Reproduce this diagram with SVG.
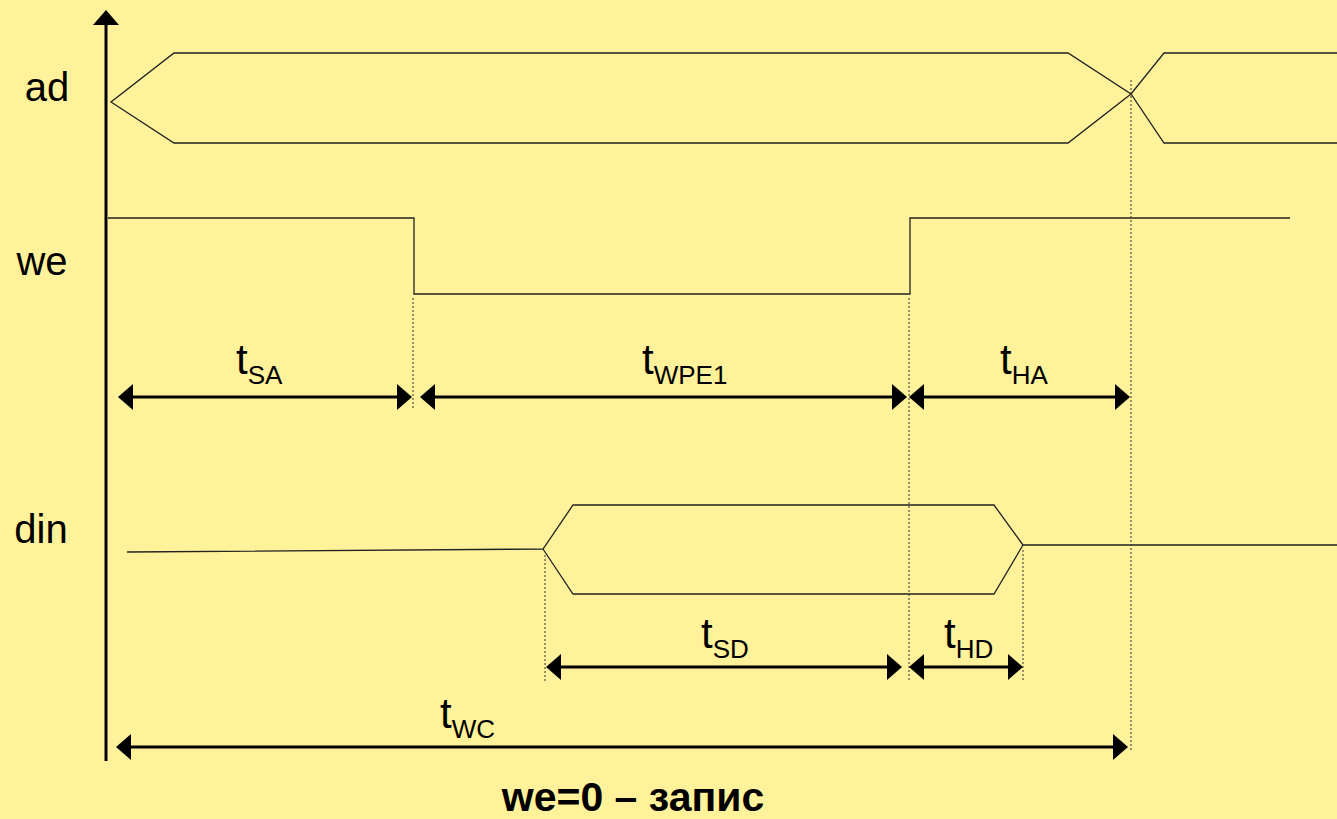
<svg xmlns="http://www.w3.org/2000/svg" width="1337" height="819" viewBox="0 0 1337 819">
  <style>
    .sig { fill: none; stroke: #222; stroke-width: 1.3; }
    .guide { fill: none; stroke: #333; stroke-width: 1; stroke-dasharray: 2 2; }
    .dim { fill: none; stroke: #000; stroke-width: 3; }
    .name { font-family: "Liberation Sans", Arial, sans-serif; font-size: 40px; fill: #000; }
    .t { font-family: "Liberation Sans", Arial, sans-serif; font-size: 42px; fill: #000; }
    .sub { font-size: 26px; }
    .caption { font-family: "Liberation Sans", Arial, sans-serif; font-size: 41px; font-weight: bold; fill: #000; }
  </style>
  <defs>
    <marker id="ah" viewBox="0 0 15 26" refX="7" refY="13" markerWidth="15" markerHeight="26" orient="auto-start-reverse" markerUnits="userSpaceOnUse">
      <path d="M0,0 L15,13 L0,26 Z" fill="#000"/>
    </marker>
  </defs>

  <rect width="1337" height="819" fill="#FFF29A"/>

  <!-- time axis -->
  <g id="axis">
    <line x1="106" y1="761" x2="106" y2="22" stroke="#000" stroke-width="3"/>
    <polygon points="106,10 93,25 119,25" fill="#000"/>
  </g>

  <!-- signal names -->
  <g id="labels">
    <text class="name" x="47" y="101" text-anchor="middle">ad</text>
    <text class="name" x="42" y="275" text-anchor="middle">we</text>
    <text class="name" x="41" y="543" text-anchor="middle">din</text>
  </g>

  <!-- address bus -->
  <g id="ad">
    <polyline class="sig" points="1337,53 1164,53 1131,94 1068,143 174,143 111,102 174,53 1068,53 1131,94 1164,143 1337,143"/>
  </g>

  <!-- write enable -->
  <g id="we">
    <polyline class="sig" points="108,218 414,218 414,294 910,294 910,218 1290,218"/>
  </g>

  <!-- data in -->
  <g id="din">
    <polyline class="sig" points="127,552 543,549 573,505 994,505 1023,545 1337,545"/>
    <polyline class="sig" points="543,549 573,594 994,594 1023,545"/>
  </g>

  <!-- dotted timing guides -->
  <g id="guides">
    <line class="guide" x1="413" y1="298" x2="413" y2="410"/>
    <line class="guide" x1="909" y1="298" x2="909" y2="682"/>
    <line class="guide" x1="1131" y1="80" x2="1131" y2="750"/>
    <line class="guide" x1="545" y1="555" x2="545" y2="682"/>
    <line class="guide" x1="1023" y1="550" x2="1023" y2="682"/>
  </g>

  <!-- timing dimensions -->
  <g id="connectors">
    <line class="dim" x1="126" y1="397" x2="404" y2="397" marker-start="url(#ah)" marker-end="url(#ah)"/>
    <line class="dim" x1="428" y1="397" x2="899" y2="397" marker-start="url(#ah)" marker-end="url(#ah)"/>
    <line class="dim" x1="917" y1="397" x2="1122" y2="397" marker-start="url(#ah)" marker-end="url(#ah)"/>
    <line class="dim" x1="554" y1="667" x2="894" y2="667" marker-start="url(#ah)" marker-end="url(#ah)"/>
    <line class="dim" x1="917" y1="667" x2="1015" y2="667" marker-start="url(#ah)" marker-end="url(#ah)"/>
    <line class="dim" x1="124" y1="747" x2="1120" y2="747" marker-start="url(#ah)" marker-end="url(#ah)"/>
  </g>

  <!-- timing parameter names -->
  <g id="t-SA"><text class="t" x="236" y="374">t<tspan class="sub" dy="10">SA</tspan></text></g>
  <g id="t-WPE1"><text class="t" x="642" y="374">t<tspan class="sub" dy="10">WPE1</tspan></text></g>
  <g id="t-HA"><text class="t" x="1000" y="374">t<tspan class="sub" dy="10">HA</tspan></text></g>
  <g id="t-SD"><text class="t" x="701" y="648">t<tspan class="sub" dy="10">SD</tspan></text></g>
  <g id="t-HD"><text class="t" x="944" y="648">t<tspan class="sub" dy="10">HD</tspan></text></g>
  <g id="t-WC"><text class="t" x="440" y="728">t<tspan class="sub" dy="10">WC</tspan></text></g>

  <g id="caption">
    <text class="caption" x="633" y="811" text-anchor="middle">we=0 – запис</text>
  </g>
</svg>
